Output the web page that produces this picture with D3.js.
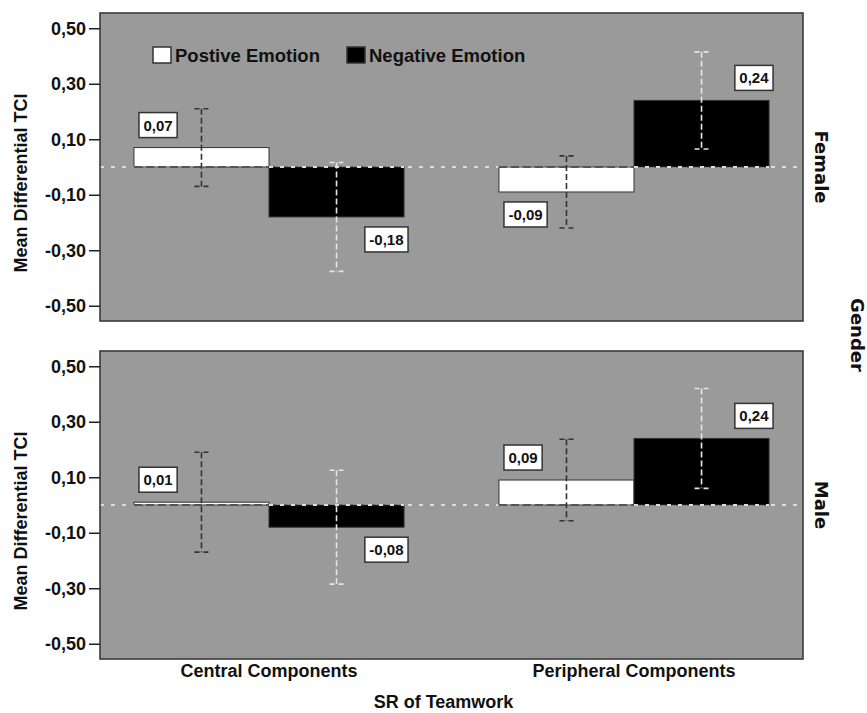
<!DOCTYPE html>
<html>
<head>
<meta charset="utf-8">
<script src="https://cdnjs.cloudflare.com/ajax/libs/d3/7.8.5/d3.min.js"></script>
<style>
  body { margin: 0; background: #fff; }
  text { font-family: "Liberation Sans", Arial, sans-serif; font-weight: bold; fill: #111; }
  .strip { font-family: "DejaVu Sans", sans-serif; }
</style>
</head>
<body>
<svg id="chart" width="867" height="713"></svg>
<script>
// data
var categories = ["Central Components", "Peripheral Components"]
var emotions = ["Postive Emotion", "Negative Emotion"]
var genders = ["Female", "Male"]
var yTicks = [0.5, 0.3, 0.1, -0.1, -0.3, -0.5]

var femalePositive = [0.07, -0.09]
var femaleNegative = [-0.18, 0.24]
var malePositive = [0.01, 0.09]
var maleNegative = [-0.08, 0.24]

// half width of the error bars
var femalePositiveErr = [0.14, 0.13]
var femaleNegativeErr = [0.196, 0.175]
var malePositiveErr = [0.18, 0.147]
var maleNegativeErr = [0.205, 0.18]

var panels = [
    {gender: genders[0], pos: femalePositive, neg: femaleNegative, posErr: femalePositiveErr, negErr: femaleNegativeErr},
    {gender: genders[1], pos: malePositive, neg: maleNegative, posErr: malePositiveErr, negErr: maleNegativeErr}
]

var svg = d3.select("#chart")
var left = 100, right = 803
var panelTop = [13, 351], panelH = 308

var comma = d3.formatLocale({decimal: ",", thousands: ".", grouping: [3], currency: ["", ""], minus: "-"})
var fmt = comma.format(".2f")

var x0 = d3.scaleBand().domain(categories).range([left, right])
    .paddingInner(0.26).paddingOuter(0.093)
var x1 = d3.scaleBand().domain(emotions).range([0, x0.bandwidth()])
var y = d3.scaleLinear().domain([-0.555, 0.555]).range([panelH, 0])

var fills = {"Postive Emotion": "#fff", "Negative Emotion": "#000"}
var errColor = {"Postive Emotion": "#333", "Negative Emotion": "#e6e6e6"}

panels.forEach(function(p, pi) {
    var g = svg.append("g").attr("transform", "translate(0," + panelTop[pi] + ")")

    g.append("rect")
        .attr("x", left).attr("y", 0)
        .attr("width", right - left).attr("height", panelH)
        .attr("fill", "#9a9a9a")

    // zero reference line
    g.append("line")
        .attr("x1", left).attr("x2", right)
        .attr("y1", y(0)).attr("y2", y(0))
        .attr("stroke", "#dcdcdc").attr("stroke-width", 2)
        .attr("stroke-dasharray", "4,7")

    var rows = []
    categories.forEach(function(c, i) {
        rows.push({cat: c, em: emotions[0], v: p.pos[i], e: p.posErr[i]})
        rows.push({cat: c, em: emotions[1], v: p.neg[i], e: p.negErr[i]})
    })

    var bars = g.selectAll(".bar").data(rows).join("g").attr("class", "bar")

    bars.append("rect")
        .attr("x", function(d) { return x0(d.cat) + x1(d.em) })
        .attr("y", function(d) { return y(Math.max(0, d.v)) })
        .attr("width", x1.bandwidth())
        .attr("height", function(d) { return Math.abs(y(d.v) - y(0)) })
        .attr("fill", function(d) { return fills[d.em] })
        .attr("stroke", "#333").attr("stroke-width", 1)

    // baseline edge of each bar
    bars.append("line")
        .attr("x1", function(d) { return x0(d.cat) + x1(d.em) })
        .attr("x2", function(d) { return x0(d.cat) + x1(d.em) + x1.bandwidth() })
        .attr("y1", y(0)).attr("y2", y(0))
        .attr("stroke", function(d) { return d.em == emotions[0] ? "#555" : "#dcdcdc" })
        .attr("stroke-width", 2)
        .attr("stroke-dasharray", function(d) { return d.em == emotions[0] ? "8,4" : "4,7" })

    // error bars
    var cx = function(d) { return x0(d.cat) + x1(d.em) + x1.bandwidth() / 2 }
    bars.append("line")
        .attr("x1", cx).attr("x2", cx)
        .attr("y1", function(d) { return y(d.v + d.e) })
        .attr("y2", function(d) { return y(d.v - d.e) })
        .attr("stroke", function(d) { return errColor[d.em] })
        .attr("stroke-width", 1.6)
        .attr("stroke-dasharray", "6,3")
    ;[1, -1].forEach(function(s) {
        bars.append("line")
            .attr("x1", function(d) { return cx(d) - 7 })
            .attr("x2", function(d) { return cx(d) + 7 })
            .attr("y1", function(d) { return y(d.v + s * d.e) })
            .attr("y2", function(d) { return y(d.v + s * d.e) })
            .attr("stroke", function(d) { return errColor[d.em] })
            .attr("stroke-width", 1.6)
            .attr("stroke-dasharray", "5,4")
    })

    // value labels
    bars.each(function(d) {
        var b = d3.select(this)
        var t = b.append("text").text(fmt(d.v)).style("font-size", "15px")
        var w = t.node().getComputedTextLength() + 9, h = 25
        var bx = x0(d.cat) + x1(d.em)
        var boxX = d.em == emotions[0] ? bx + 5 : bx + x1.bandwidth() + 4 - w
        var boxY = d.v >= 0 ? y(d.v) - 10 - h : y(d.v) + 10
        b.insert("rect", "text")
            .attr("x", boxX).attr("y", boxY).attr("width", w).attr("height", h)
            .attr("fill", "#fff").attr("stroke", "#333").attr("stroke-width", 1.5)
        t.attr("x", boxX + w / 2).attr("y", boxY + h / 2 + 5.5).attr("text-anchor", "middle")
    })

    // frame
    g.append("rect")
        .attr("x", left).attr("y", 0)
        .attr("width", right - left).attr("height", panelH)
        .attr("fill", "none").attr("stroke", "#3a3a3a").attr("stroke-width", 1.6)

    // y axis
    var ax = g.append("g").attr("transform", "translate(" + left + ",0)")
        .call(d3.axisLeft(y).tickValues(yTicks).tickSize(11).tickPadding(3).tickFormat(fmt))
    ax.select(".domain").remove()
    ax.selectAll("line").attr("stroke", "#222").attr("stroke-width", 1.5)
    ax.selectAll("text").style("font-size", "18px").attr("fill", "#111")
        .style("font-family", "'Liberation Sans', Arial, sans-serif")

    g.append("text")
        .attr("transform", "translate(27," + (panelH / 2 + 16) + ") rotate(-90)")
        .attr("text-anchor", "middle").style("font-size", "18px")
        .text("Mean Differential TCI")

    g.append("text").attr("class", "strip")
        .attr("transform", "translate(815," + y(0) + ") rotate(90)")
        .attr("text-anchor", "middle").style("font-size", "18px")
        .text(p.gender)
})

// legend
var legend = svg.append("g")
var legendX = [153, 347]
emotions.forEach(function(e, i) {
    legend.append("rect")
        .attr("x", legendX[i]).attr("y", 47).attr("width", 18).attr("height", 16)
        .attr("fill", fills[e]).attr("stroke", "#333").attr("stroke-width", 1.5)
    legend.append("text")
        .attr("x", legendX[i] + 22).attr("y", 62)
        .style("font-size", "18.5px").text(e)
})

svg.append("text").attr("class", "strip")
    .attr("transform", "translate(851,335) rotate(90)")
    .attr("text-anchor", "middle").style("font-size", "18px")
    .text("Gender")

// x axis labels
svg.selectAll(".cat").data(categories).join("text")
    .attr("class", "cat")
    .attr("x", function(d) { return x0(d) + x0.bandwidth() / 2 })
    .attr("y", 677).attr("text-anchor", "middle")
    .style("font-size", "18px")
    .text(function(d) { return d })

svg.append("text")
    .attr("x", (left + right) / 2 - 8).attr("y", 708)
    .attr("text-anchor", "middle").style("font-size", "18px")
    .text("SR of Teamwork")
</script>
</body>
</html>
